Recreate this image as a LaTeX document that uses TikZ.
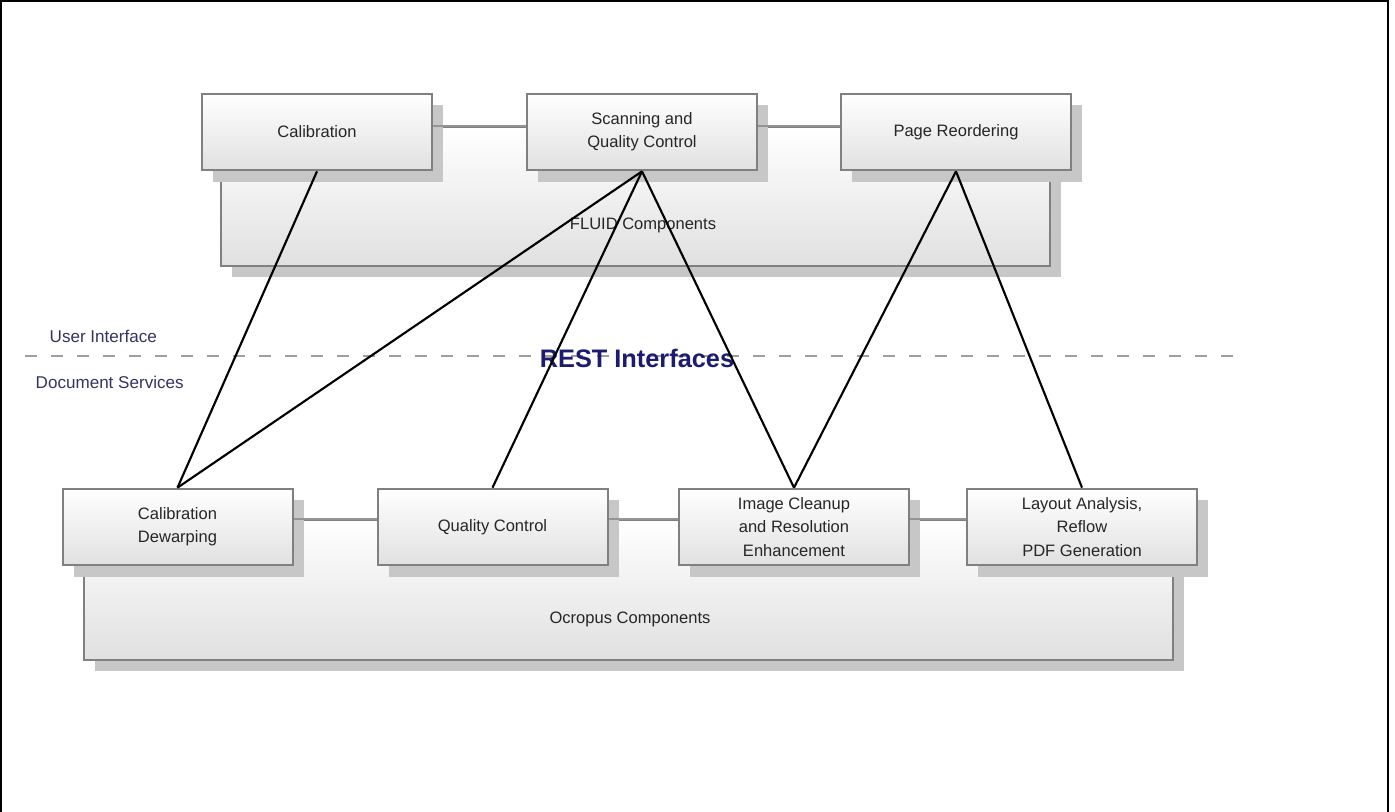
\documentclass[tikz,border=0pt]{standalone}
\usepackage{fontspec}
\setmainfont{Liberation Sans}
\usetikzlibrary{shadows,positioning}
\definecolor{uinavy}{RGB}{51,51,102}
\definecolor{restnavy}{RGB}{28,28,110}
\definecolor{boxedge}{RGB}{128,128,128}

\begin{document}
\begin{tikzpicture}[x=0.75pt, y=-0.75pt,
  comp/.style={rectangle, draw=boxedge, line width=1.5pt, top color=white, bottom color=black!12,
    minimum width=172.5pt, minimum height=57.5pt, align=center, text=black!85,
    font=\fontsize{12.4}{17.5}\selectfont,
    drop shadow={shadow xshift=8.5pt, shadow yshift=-8.5pt, fill=black!22, opacity=1}},
  group/.style={comp, minimum width=#1},
  link/.style={draw=black!42, line width=1.6pt},
  wire/.style={draw=black, line width=1.6pt},
  layer/.style={text=uinavy, font=\fontsize{12.8}{14}\selectfont}]
\useasboundingbox (0,0) rectangle (1395,812);
\draw[line width=1pt] (1,812) -- (1,1) -- (1388,1) -- (1388,812);

% component groups
\node[group=621.75pt, minimum height=104.25pt] (fluid) at (635.5,196.5) {};
\node[font=\fontsize{12.4}{14}\selectfont, text=black!85] (fluidlbl) at (643,225) {FLUID Components};
\node[group=816.75pt, minimum height=105pt] (ocro) at (628.5,590) {};
\node[font=\fontsize{12.4}{14}\selectfont, text=black!85] (ocrolbl) at (630,619) {Ocropus Components};

% user interface row
\node[comp] (calib) at (317,132) {Calibration};
\node[comp] (scan) at (642,132) {Scanning and\\Quality Control};
\node[comp] (reord) at (956,132) {Page Reordering};
\draw[link] (calib.east |- fluid.north) -- (scan.west |- fluid.north);
\draw[link] (scan.east |- fluid.north) -- (reord.west |- fluid.north);

% document services row
\node[comp] (dewarp) at (177.5,527) {Calibration\\Dewarping};
\node[comp] (qc) at (492.5,527) {Quality Control};
\node[comp] (clean) at (794,527) {Image Cleanup\\and Resolution\\Enhancement};
\node[comp] (layout) at (1082,527) {Layout Analysis,\\Reflow\\PDF Generation};
\draw[link] (dewarp.east |- ocro.north) -- (qc.west |- ocro.north);
\draw[link] (qc.east |- ocro.north) -- (clean.west |- ocro.north);
\draw[link] (clean.east |- ocro.north) -- (layout.west |- ocro.north);

% layer separator
\coordinate (sepw) at (25,356);
\coordinate (sepe) at (1245,356);
\draw[black!38, line width=1.6pt, dash pattern=on 9pt off 10.5pt] (sepw) -- (sepe);
\node[layer, anchor=west] (ui) at (45,336) {User Interface};
\node[layer, anchor=west] (ds) at (31,382) {Document Services};
\node[text=restnavy, font=\fontsize{19}{20}\selectfont\bfseries] (rest) at (637,358) {REST Interfaces};

% service calls
\draw[wire] (calib.south) -- (dewarp.north);
\draw[wire] (scan.south) -- (dewarp.north);
\draw[wire] (scan.south) -- (qc.north);
\draw[wire] (scan.south) -- (clean.north);
\draw[wire] (reord.south) -- (clean.north);
\draw[wire] (reord.south) -- (layout.north);
\end{tikzpicture}
\end{document}
